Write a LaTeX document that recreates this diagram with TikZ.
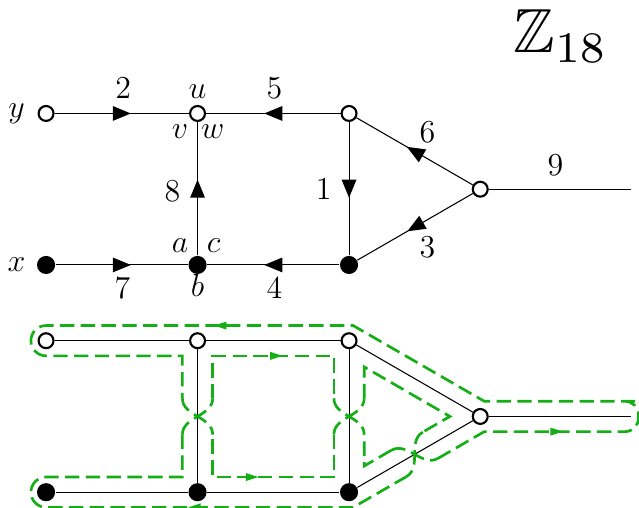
\documentclass[tikz,border=0pt]{standalone}
\usepackage{amsmath}
\usepackage{amssymb}
\usetikzlibrary{decorations.markings}
\definecolor{bandgreen}{RGB}{20,175,20}

% a crossing of the two green strands along one edge
\newcommand{\ribbontwist}[2]{%
  \begin{scope}[shift={#1},rotate=#2]
    \draw[band] (-0.12,0.1) .. controls (0,0.1) and (0,-0.1) .. (0.12,-0.1);
    \draw[band] (0.12,0.1) .. controls (0,0.1) and (0,-0.1) .. (-0.12,-0.1);
  \end{scope}}

\begin{document}
\begin{tikzpicture}[x=2cm,y=2cm,
    open/.style={circle,draw,fill=white,line width=0.8pt,inner sep=0pt,minimum size=5.6pt},
    full/.style={circle,fill=black,inner sep=0pt,minimum size=6.8pt},
    lab/.style={font=\large},
    midarrow/.style={postaction={decorate},decoration={markings,
        mark=at position 0.5 with {\fill (3.4pt,0) -- (-3.4pt,2.8pt) -- (-3.4pt,-2.8pt) -- cycle;}}},
    band/.style={bandgreen,line width=1pt,dash pattern=on 5.4pt off 2.4pt},
    bandarrow/.style={postaction={decorate},decoration={markings,
        mark=at position 0.5 with {\fill[bandgreen] (2.3pt,0) -- (-2.3pt,1.5pt) -- (-2.3pt,-1.5pt) -- cycle;}}}]
\useasboundingbox (-0.304,-1.604) rectangle (3.914,1.749);

% Upper graph: vertices
\node[open] (Y) at (0,1) {};
\node[open] (U) at (1,1) {};
\node[open] (P) at (2,1) {};
\node[full] (X) at (0,0) {};
\node[full] (B) at (1,0) {};
\node[full] (Q) at (2,0) {};
\node[open] (R) at (2.866,0.5) {};
\coordinate (T) at (3.86,0.5);
% Upper graph: oriented edges
\draw[midarrow] (Y) -- (U);
\draw[midarrow] (P) -- (U);
\draw[midarrow] (B) -- (U);
\draw[midarrow] (X) -- (B);
\draw[midarrow] (Q) -- (B);
\draw[midarrow] (P) -- (Q);
\draw[midarrow] (R) -- (P);
\draw[midarrow] (R) -- (Q);
\draw (R) -- (T);
% Vertex and half-edge labels
\node[lab] (ly) at (-0.195,1) {$y$};
\node[lab] (lx) at (-0.195,0) {$x$};
\node[lab] (lu) at (1,1.142) {$u$};
\node[lab] (lv) at (0.885,0.881) {$v$};
\node[lab] (lw) at (1.1,0.881) {$w$};
\node[lab] (la) at (0.885,0.125) {$a$};
\node[lab] (lc) at (1.106,0.125) {$c$};
\node[lab] (lb) at (1,-0.135) {$b$};
% Edge labels
\node[lab] (n2) at (0.51,1.17) {$2$};
\node[lab] (n5) at (1.508,1.17) {$5$};
\node[lab] (n8) at (0.835,0.488) {$8$};
\node[lab] (n1) at (1.832,0.5) {$1$};
\node[lab] (n6) at (2.518,0.875) {$6$};
\node[lab] (n9) at (3.363,0.66) {$9$};
\node[lab] (n3) at (2.518,0.119) {$3$};
\node[lab] (n7) at (0.505,-0.156) {$7$};
\node[lab] (n4) at (1.508,-0.156) {$4$};
\node[scale=2.34,inner sep=0pt,anchor=base west] (Z) at (3.078,1.40) {$\mathbb{Z}_{18}$};

% Lower graph: vertices
\node[open] (Y2) at (0,-0.5) {};
\node[open] (U2) at (1,-0.5) {};
\node[open] (P2) at (2,-0.5) {};
\node[full] (X2) at (0,-1.5) {};
\node[full] (B2) at (1,-1.5) {};
\node[full] (Q2) at (2,-1.5) {};
\node[open] (R2) at (2.866,-1) {};
\coordinate (T2) at (3.86,-1);
% Lower graph: edges
\draw (Y2) -- (U2) -- (P2);
\draw (X2) -- (B2) -- (Q2);
\draw (U2) -- (B2);
\draw (P2) -- (Q2);
\draw (P2) -- (R2) -- (Q2);
\draw (R2) -- (T2);

% Boundary of the ribbon graph
\draw[band] (2.587,-1.277) -- (2.893,-1.1) -- (3.8,-1.1) [rounded corners=5pt] -- (3.91,-1.1)
  -- (3.91,-0.9) -- (3.8,-0.9) [sharp corners] -- (2.893,-0.9) -- (2.027,-0.4) -- (0,-0.4)
  arc[start angle=90,end angle=270,radius=0.1] -- (0.9,-0.6) -- (0.9,-0.88);
\draw[band] (1.1,-0.88) -- (1.1,-0.6) -- (1.9,-0.6) -- (1.9,-0.88);
\draw[band] (2.1,-0.88) -- (2.1,-0.673) -- (2.666,-1) -- (2.487,-1.103);
\draw[band] (2.279,-1.223) -- (2.1,-1.327) -- (2.1,-1.12);
\draw[band] (1.9,-1.12) -- (1.9,-1.4) -- (1.1,-1.4) -- (1.1,-1.12);
\draw[band] (0.9,-1.12) -- (0.9,-1.4) -- (0,-1.4)
  arc[start angle=90,end angle=270,radius=0.1] -- (2.027,-1.6) -- (2.379,-1.397);
% twists on edges 8, 1 and 3
\ribbontwist{(1,-1)}{90}
\ribbontwist{(2,-1)}{90}
\ribbontwist{(2.433,-1.25)}{30}
% direction marks
\path[bandarrow] (1.25,-0.4) -- (1.05,-0.4);
\path[bandarrow] (1.42,-0.6) -- (1.62,-0.6);
\path[bandarrow] (1.26,-1.4) -- (1.46,-1.4);
\path[bandarrow] (1.08,-1.6) -- (0.88,-1.6);
\path[bandarrow] (3.27,-1.1) -- (3.47,-1.1);
\end{tikzpicture}
\end{document}
